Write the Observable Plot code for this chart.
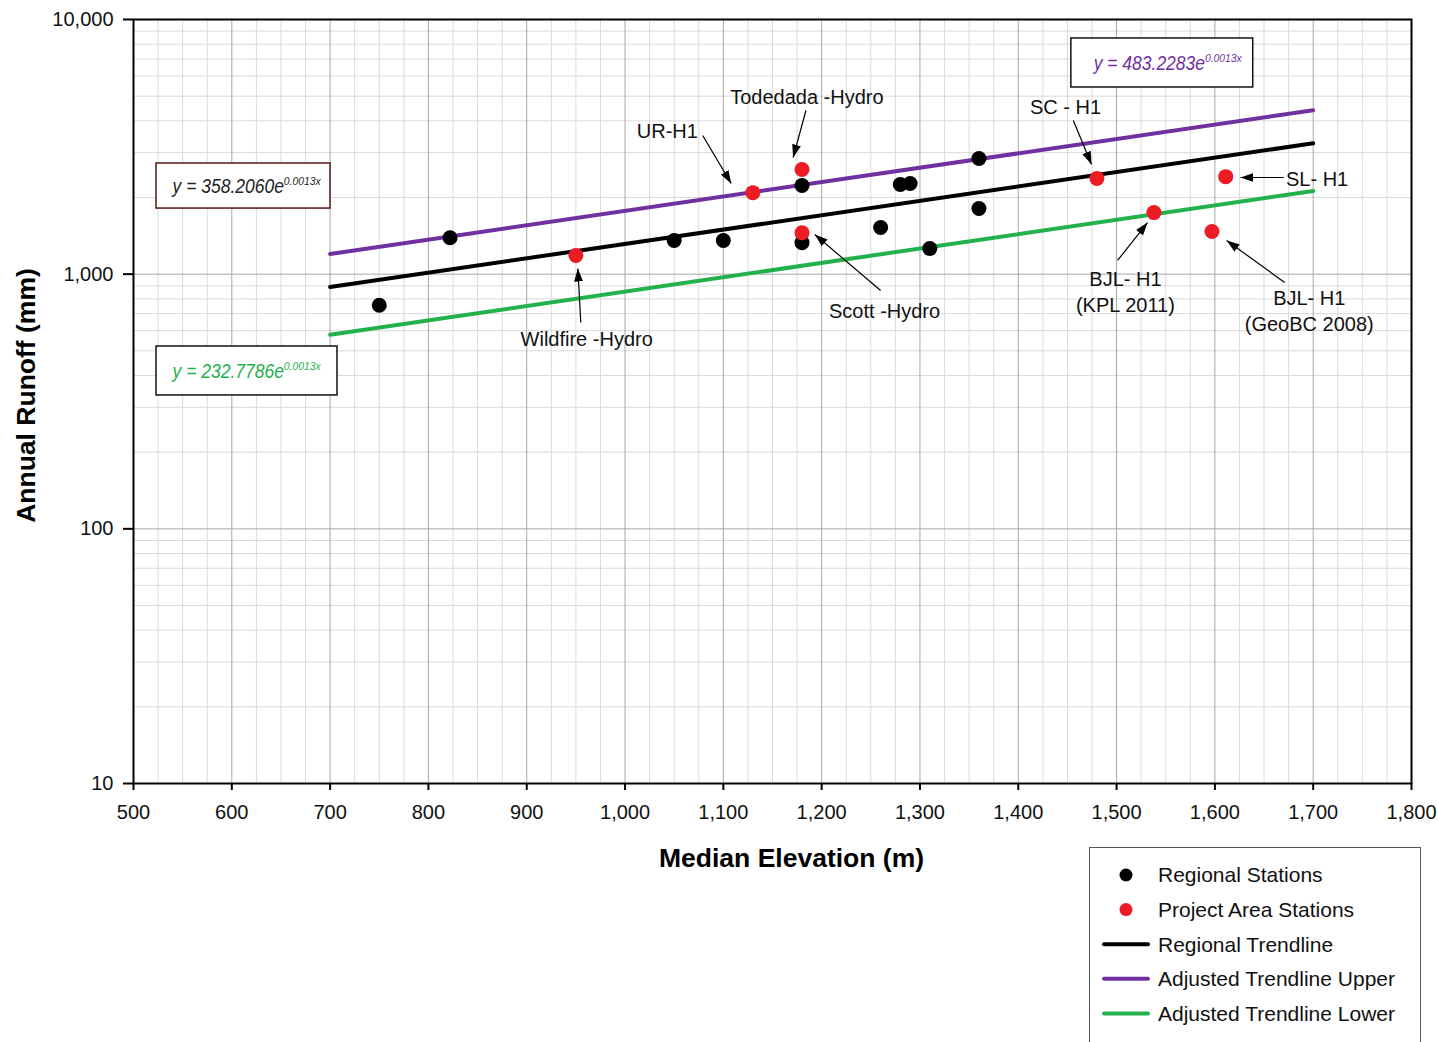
<!DOCTYPE html>
<html>
<head>
<meta charset="utf-8">
<script src="https://cdn.jsdelivr.net/npm/d3@7"></script>
<script src="https://cdn.jsdelivr.net/npm/@observablehq/plot@0.6"></script>
<style>
  body { margin: 0; background: #fff; font-family: "Liberation Sans", Arial, sans-serif; }
  #wrap { position: relative; width: 1437px; height: 1042px; overflow: hidden; background: #fff; }
  #legend { position: absolute; left: 1089px; top: 847px; width: 332px; height: 220px;
            border: 1px solid #555; box-sizing: border-box; background: #fff; }
</style>
</head>
<body>
<div id="wrap"><div id="chart"></div><div id="legend"></div></div>
<script>
// ---------- data ----------
const regionalX = [750, 822, 1050, 1100, 1180, 1180, 1260, 1280, 1290, 1310, 1360, 1360];
const regionalY = [755, 1390, 1355, 1355, 2230, 1330, 1525, 2250, 2270, 1260, 2845, 1810];

const projectNames = ["Wildfire-Hydro", "UR-H1", "Todedada-Hydro", "Scott-Hydro", "SC-H1", "BJL-H1 (KPL 2011)", "BJL-H1 (GeoBC 2008)", "SL-H1"];
const projectX = [950, 1130, 1180, 1180, 1480, 1538, 1597, 1611];
const projectY = [1185, 2090, 2575, 1455, 2375, 1745, 1470, 2415];

const trendX = [700, 1700];
const regionalTrendY = [890, 3265];
const upperTrendY = [1200, 4405];
const lowerTrendY = [578, 2122];

const annotLabels = ["UR-H1", "Todedada -Hydro", "SC - H1", "SL- H1", "Scott -Hydro", "Wildfire -Hydro", "BJL- H1\n(KPL 2011)", "BJL- H1\n(GeoBC 2008)"];
const annotX = [1043, 1185, 1448, 1704, 1264, 961, 1509, 1696];
const annotY = [3700, 5000, 4600, 2395, 728, 565, 862, 727];
const arrowX1 = [1079, 1184, 1456, 1670, 1260, 955, 1501, 1671];
const arrowY1 = [3504, 4393, 4012, 2396, 863, 646, 1132, 927];
const arrowX2 = [1108, 1171, 1474.5, 1626, 1193, 952, 1531.5, 1612];
const arrowY2 = [2270, 2871, 2696, 2396, 1431, 1052, 1595, 1356];

const eqBase = ["y = 358.2060e", "y = 483.2283e", "y = 232.7786e"];
const eqExp = ["0.0013x", "0.0013x", "0.0013x"];
const eqColor = ["#222222", "#7030a0", "#22b14c"];
const eqBorder = ["#5a1515", "#111111", "#111111"];
const eqX = [615, 1552, 615];
const eqY = [2209, 6717, 415];
const boxX1 = [523.4, 1454, 523.4];
const boxX2 = [700.4, 1639, 707.5];
const boxY1 = [1810, 5408, 334];
const boxY2 = [2720, 8424, 520];

const xTicks = [500, 600, 700, 800, 900, 1000, 1100, 1200, 1300, 1400, 1500, 1600, 1700, 1800];
const yTicks = [10, 100, 1000, 10000];

const legendLabels = ["Regional Stations", "Project Area Stations", "Regional Trendline", "Adjusted Trendline Upper", "Adjusted Trendline Lower"];
const legendColors = ["#000000", "#ed1c24", "#000000", "#7030a0", "#22b14c"];
const legendKinds = ["dot", "dot", "line", "line", "line"];

// ---------- tables ----------
const regional = regionalX.map((x, i) => ({x, y: regionalY[i]}));
const project = projectX.map((x, i) => ({name: projectNames[i], x, y: projectY[i]}));
const trends = [
  ...trendX.map((x, i) => ({s: "regional", x, y: regionalTrendY[i]})),
  ...trendX.map((x, i) => ({s: "upper", x, y: upperTrendY[i]})),
  ...trendX.map((x, i) => ({s: "lower", x, y: lowerTrendY[i]}))
];
const annots = annotLabels.map((t, i) => ({t, x: annotX[i], y: annotY[i], x1: arrowX1[i], y1: arrowY1[i], x2: arrowX2[i], y2: arrowY2[i]}));
const eqs = eqBase.map((b, i) => ({b, e: eqExp[i], c: eqColor[i], k: eqBorder[i], x: eqX[i], y: eqY[i], x1: boxX1[i], x2: boxX2[i], y1: boxY1[i], y2: boxY2[i]}));

const xMinor = d3.range(500, 1801, 25).filter(v => v % 100 !== 0);
const yMinor = [10, 100, 1000].flatMap(d => d3.range(2, 10).map(k => k * d));

function arrowHead(color) {
  const ns = "http://www.w3.org/2000/svg";
  const m = document.createElementNS(ns, "marker");
  m.setAttribute("viewBox", "-13 -5 13 10");
  m.setAttribute("markerWidth", "13");
  m.setAttribute("markerHeight", "10");
  m.setAttribute("markerUnits", "userSpaceOnUse");
  m.setAttribute("orient", "auto");
  m.setAttribute("fill", "#000");
  m.setAttribute("stroke", "none");
  const p = document.createElementNS(ns, "path");
  p.setAttribute("d", "M-13,-4.5L0,0L-13,4.5Z");
  m.appendChild(p);
  return m;
}

const font = "'Liberation Sans', Arial, sans-serif";
const fmt = d3.format(",d");

const chart = Plot.plot({
  width: 1437,
  height: 880,
  marginLeft: 133,
  marginRight: 26,
  marginTop: 19,
  marginBottom: 97,
  style: {fontFamily: font, fontSize: "20px", background: "white", color: "#111"},
  x: {domain: [500, 1800]},
  y: {type: "log", domain: [10, 10000]},
  marks: [
    Plot.gridX(xMinor, {stroke: "#dadada", strokeOpacity: 1, strokeWidth: 1}),
    Plot.gridY(yMinor, {stroke: "#dadada", strokeOpacity: 1, strokeWidth: 1}),
    Plot.gridX(xTicks, {stroke: "#a8a8a8", strokeOpacity: 1, strokeWidth: 1}),
    Plot.gridY(yTicks, {stroke: "#a8a8a8", strokeOpacity: 1, strokeWidth: 1}),
    Plot.line(trends.filter(d => d.s === "upper"), {x: "x", y: "y", stroke: "#7030a0", strokeWidth: 4}),
    Plot.line(trends.filter(d => d.s === "regional"), {x: "x", y: "y", stroke: "#000", strokeWidth: 4}),
    Plot.line(trends.filter(d => d.s === "lower"), {x: "x", y: "y", stroke: "#22b14c", strokeWidth: 4}),
    Plot.dot(regional, {x: "x", y: "y", r: 7.5, fill: "#000", stroke: "none"}),
    Plot.dot(project, {x: "x", y: "y", r: 7.5, fill: "#ed1c24", stroke: "none"}),
    Plot.link(annots, {x1: "x1", y1: "y1", x2: "x2", y2: "y2", stroke: "#000", strokeWidth: 1.2, markerEnd: arrowHead}),
    Plot.text(annots, {x: "x", y: "y", text: "t", fontSize: 20, fill: "#111", lineHeight: 1.3}),
    Plot.rect(eqs, {x1: "x1", x2: "x2", y1: "y1", y2: "y2", fill: "white", stroke: "k", strokeWidth: 1.5}),
    Plot.text(eqs, {x: "x", y: "y", text: "b", fill: "c", fontSize: 19.5, fontStyle: "italic"}),
    Plot.frame({stroke: "#000", strokeWidth: 2}),
    Plot.axisX(xTicks, {tickFormat: fmt, tickSize: 7, tickPadding: 14, strokeWidth: 2, stroke: "#000", label: null, fill: "#111"}),
    Plot.axisY(yTicks, {tickFormat: fmt, tickSize: 10, tickPadding: 10, strokeWidth: 2, stroke: "#000", label: null, fill: "#111"}),
    Plot.text(["Median Elevation (m)"], {frameAnchor: "bottom", lineAnchor: "middle", textAnchor: "middle", dy: 75, dx: 19, fontSize: 26.5, fontWeight: "bold", fill: "#000"}),
    Plot.text(["Annual Runoff (mm)"], {frameAnchor: "left", textAnchor: "middle", lineAnchor: "middle", dx: -107, dy: -6, rotate: -90, fontSize: 26.5, fontWeight: "bold", fill: "#000"})
  ]
});
document.getElementById("chart").appendChild(chart);

// superscript exponents on the equation labels, condensed like the original narrow italic
d3.select(chart).selectAll("text").each(function() {
  const i = eqBase.indexOf(this.textContent);
  if (i < 0) return;
  d3.select(this).append("tspan")
    .attr("dy", "-8")
    .attr("font-size", 11.5)
    .text(eqExp[i]);
  this.setAttribute("textLength", 148);
  this.setAttribute("lengthAdjust", "spacingAndGlyphs");
});

// ---------- legend ----------
const lg = d3.select("#legend").append("svg").attr("width", 332).attr("height", 220)
  .style("font-family", font);
legendLabels.forEach((label, i) => {
  const cy = 27 + i * 34.6;
  if (legendKinds[i] === "dot") {
    lg.append("circle").attr("cx", 36).attr("cy", cy).attr("r", 6.5).attr("fill", legendColors[i]);
  } else {
    lg.append("line").attr("x1", 14).attr("x2", 58).attr("y1", cy).attr("y2", cy)
      .attr("stroke", legendColors[i]).attr("stroke-width", 4).attr("stroke-linecap", "round");
  }
  lg.append("text").attr("x", 68).attr("y", cy).attr("dy", "0.35em").attr("font-size", 21)
    .attr("fill", "#111").text(label);
});
</script>
</body>
</html>
